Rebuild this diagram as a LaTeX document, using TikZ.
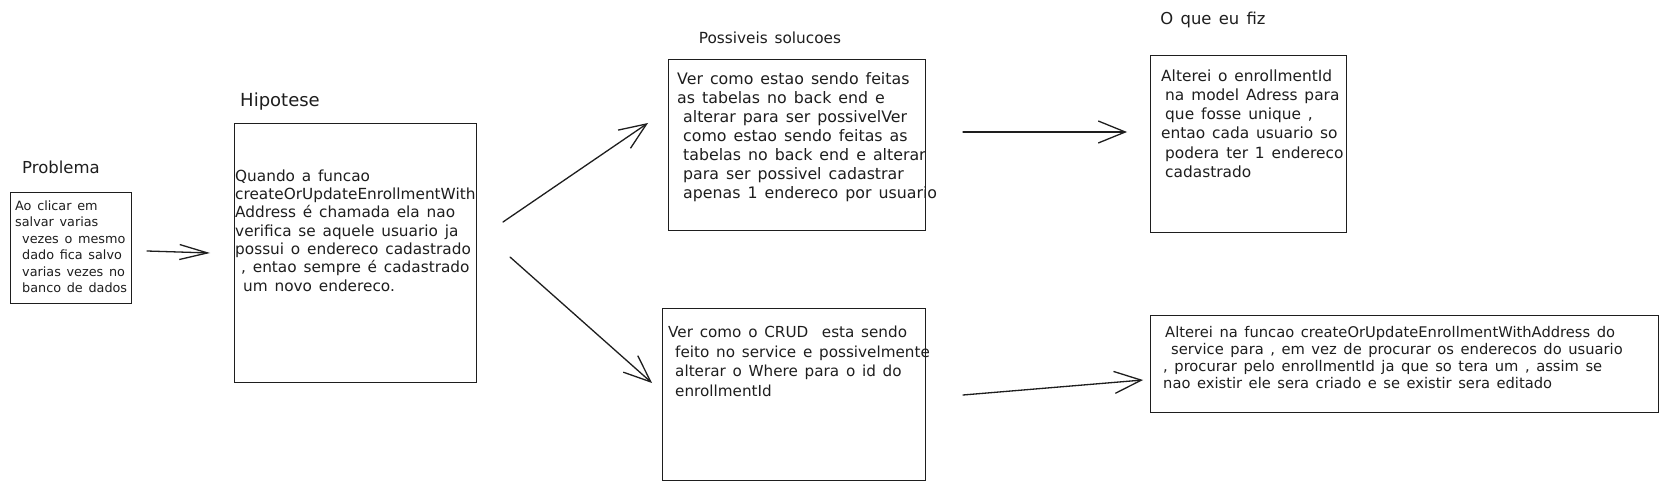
\documentclass[tikz,border=0pt]{standalone}
\usepackage{fontspec}
\setmainfont{DejaVu Sans}[WordSpace=1.4]
\usetikzlibrary{arrows.meta}
\definecolor{ink}{HTML}{1E1E1E}
\begin{document}
\begin{tikzpicture}[x=1pt,y=-1pt,
  box/.style={draw=ink,line width=1.3pt,inner sep=0pt,anchor=north west},
  title/.style={text=ink,inner sep=0pt},
  txt/.style={text=ink,inner sep=0pt,anchor=north west,align=left},
  conn/.style={draw=ink,line width=1.3pt,line cap=round,-{Straight Barb[length=27pt,width=22pt,line width=1.3pt]}},
  connsmall/.style={draw=ink,line width=1.3pt,line cap=round,-{Straight Barb[length=28pt,width=15pt,line width=1.3pt]}}
]
\fill[white] (0,0) rectangle (1668,489);
\useasboundingbox (0,0) rectangle (1668,489);

% boxes
\node[box,minimum width=121pt,minimum height=111pt] (probbox) at (10,192) {};
\node[box,minimum width=242pt,minimum height=259pt] (hipbox) at (234,123) {};
\node[box,minimum width=257pt,minimum height=171pt] (sol1box) at (668,59) {};
\node[box,minimum width=263pt,minimum height=172pt] (sol2box) at (662,308) {};
\node[box,minimum width=196pt,minimum height=177pt] (fix1box) at (1150,55) {};
\node[box,minimum width=508pt,minimum height=97pt] (fix2box) at (1150,315) {};

% titles
\node[title,font=\fontsize{16.5}{20}\selectfont] (probtitle) at (61,167) {Problema};
\node[title,font=\fontsize{18}{22}\selectfont] (hiptitle) at (280,102) {Hipotese};
\node[title,font=\fontsize{15.3}{19}\selectfont] (soltitle) at (770,38) {Possiveis solucoes};
\node[title,font=\fontsize{16.4}{20}\selectfont] (fixtitle) at (1213,20) {O que eu fiz};

% texts
\node[txt,font=\fontsize{12.8}{16.4}\selectfont] (probtext) at (15,200.5) {%
Ao clicar em\\
salvar varias\\
\hspace*{7pt}vezes o mesmo\\
\hspace*{7pt}dado fica salvo\\
\hspace*{7pt}varias vezes no\\
\hspace*{7pt}banco de dados};

\node[txt,font=\fontsize{15.3}{18.33}\selectfont] (hiptext) at (235,169.3) {%
Quando a funcao\\
createOrUpdateEnrollmentWith\\
Address é chamada ela nao\\
verifica se aquele usuario ja\\
possui o endereco cadastrado\\
\hspace*{6pt}, entao sempre é cadastrado\\
\hspace*{8pt}um novo endereco.};

\node[txt,font=\fontsize{15.8}{19}\selectfont] (sol1text) at (677,72.2) {%
Ver como estao sendo feitas\\
as tabelas no back end e\\
\hspace*{6pt}alterar para ser possivelVer\\
\hspace*{6pt}como estao sendo feitas as\\
\hspace*{6pt}tabelas no back end e alterar\\
\hspace*{6pt}para ser possivel cadastrar\\
\hspace*{6pt}apenas 1 endereco por usuario};

\node[txt,font=\fontsize{15.2}{19.5}\selectfont] (sol2text) at (668,325.8) {%
Ver como o CRUD~ esta sendo\\
\hspace*{7pt}feito no service e possivelmente\\
\hspace*{7pt}alterar o Where para o id do\\
\hspace*{7pt}enrollmentId};

\node[txt,font=\fontsize{15.4}{19.3}\selectfont] (fix1text) at (1161,69.2) {%
Alterei o enrollmentId\\
\hspace*{4pt}na model Adress para\\
\hspace*{4pt}que fosse unique ,\\
entao cada usuario so\\
\hspace*{4pt}podera ter 1 endereco\\
\hspace*{4pt}cadastrado};

\node[txt,font=\fontsize{14.7}{17.2}\selectfont] (fix2text) at (1163,326) {%
\hspace*{2pt}Alterei na funcao createOrUpdateEnrollmentWithAddress do\\
\hspace*{8pt}service para , em vez de procurar os enderecos do usuario\\
, procurar pelo enrollmentId ja que so tera um , assim se\\
nao existir ele sera criado e se existir sera editado};

% connector ends
\coordinate (a1s) at (147,251);
\coordinate (a1e) at (210,253);
\coordinate (a2s) at (503,222);
\coordinate (a2e) at (648,123);
\coordinate (a3s) at (510,257);
\coordinate (a3e) at (652,383);
\coordinate (a4s) at (963,132);
\coordinate (a4e) at (1127,132);
\coordinate (a5s) at (963,395);
\coordinate (a5e) at (1143,380);

\draw[connsmall] (a1s) -- (a1e);
\draw[conn] (a2s) -- (a2e);
\draw[conn] (a3s) -- (a3e);
\draw[conn] (a4s) -- (a4e);
\draw[conn] (a5s) -- (a5e);
\end{tikzpicture}
\end{document}
